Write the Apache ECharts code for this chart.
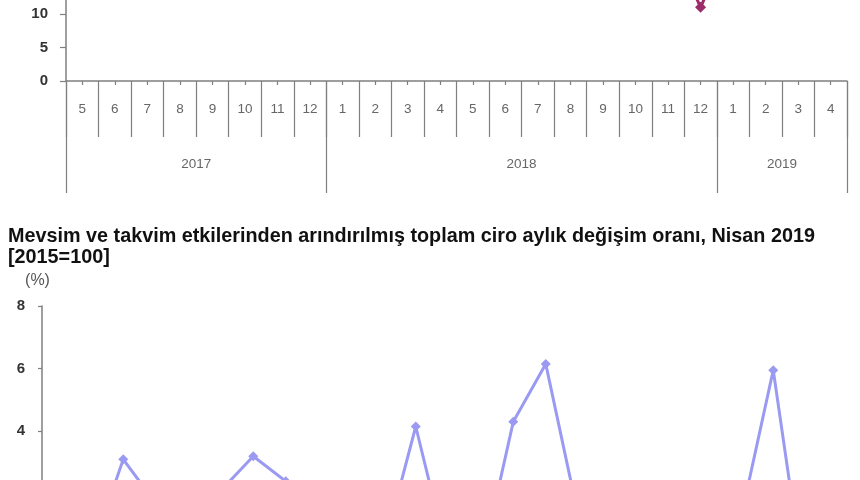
<!DOCTYPE html>
<html><head><meta charset="utf-8">
<script src="https://cdn.jsdelivr.net/npm/echarts@6/dist/echarts.min.js"></script>
<style>html,body{margin:0;padding:0;background:#fff}#c{width:860px;height:480px}</style>
</head><body><div id="c"></div>
<script>
// ---- data ----
const years = ['2017', '2018', '2019'];
const monthsPerYear = [8, 12, 4];
const monthLabels = ['5','6','7','8','9','10','11','12','1','2','3','4','5','6','7','8','9','10','11','12','1','2','3','4'];
// upper chart (only Dec-2018 point visible in the crop; the rest lies above the visible area)
const annualChange = [21, 23, 24, 26, 25, 24, 26, 22, 25, 23, 26, 24, 25, 27, 26, 31, 36, 28, 22, 11.0, 22, 20, 19, 17];
// lower chart: seasonally & calendar adjusted monthly change (%)
const monthlyChange = [1.0, 0.1, 3.1, 1.7, 0.8, 2.1, 3.2, 2.4, 1.2, 0.6, 0.2, 4.15, -0.1, -0.35, 4.3, 6.15, 1.3, -2.8, -1.5, 0.4, 0.9, 1.2, 5.95, -1.2];
const topYAxis = { min: 0, max: 40, interval: 5 };
const bottomYAxis = { min: -4, max: 8, interval: 2 };
const bottomTitle = 'Mevsim ve takvim etkilerinden arındırılmış toplam ciro aylık değişim oranı, Nisan 2019';
const bottomSubtitle = '[2015=100]';
const unitLabel = '(%)';

// ---- derived ----
const yearOfMonth = [];
const yearStart = [];
const yearLabelIdx = [];
years.forEach((y, i) => {
  yearStart.push(yearOfMonth.length);
  yearLabelIdx.push(yearOfMonth.length + monthsPerYear[i] / 2);
  for (let k = 0; k < monthsPerYear[i]; k++) yearOfMonth.push(y);
});

const FONT = '"Liberation Sans", Arial, sans-serif';
const AXIS_COL = '#7f7f7f';
const band = 781 / monthLabels.length;

const chart = echarts.init(document.getElementById('c'), null, { renderer: 'canvas' });
chart.setOption({
  animation: false,
  backgroundColor: '#ffffff',
  textStyle: { fontFamily: FONT },
  title: {
    text: bottomTitle + '\n' + bottomSubtitle,
    left: 8, top: 226, padding: 0,
    textStyle: { fontFamily: FONT, fontSize: 19.8, fontWeight: 'bold', color: '#111', lineHeight: 21 }
  },
  grid: [
    { left: 66, width: 781, top: 81 - 268, height: 268, outerBoundsMode: 'none', containLabel: false },
    { left: 42, width: 780, top: 306, height: 375.6, outerBoundsMode: 'none', containLabel: false }
  ],
  xAxis: [
    { // months with boundary separators
      type: 'category', gridIndex: 0, data: monthLabels, position: 'bottom',
      axisLine: { lineStyle: { color: AXIS_COL, width: 1.5 } },
      axisTick: { show: true, interval: 0, length: 56, lineStyle: { color: AXIS_COL, width: 1.2 } },
      axisLabel: { interval: 0, margin: 21, fontSize: 13.5, color: '#666', fontFamily: FONT }
    },
    { // small centre ticks
      type: 'category', gridIndex: 0, data: monthLabels, position: 'bottom',
      axisLine: { show: false },
      axisTick: { show: true, interval: 0, alignWithLabel: true, length: 4, lineStyle: { color: AXIS_COL, width: 1.2 } },
      axisLabel: { show: false }
    },
    { // years
      type: 'category', gridIndex: 0, data: yearOfMonth, position: 'bottom',
      axisLine: { show: false },
      axisTick: { show: true, interval: (idx) => yearStart.includes(idx), length: 112, lineStyle: { color: AXIS_COL, width: 1.2 } },
      axisLabel: {
        interval: (idx) => yearLabelIdx.includes(idx), margin: 76, fontSize: 13.5, color: '#666', fontFamily: FONT,
        padding: [0, band, 0, 0]
      }
    },
    {
      type: 'category', gridIndex: 1, data: monthLabels,
      axisLine: { lineStyle: { color: AXIS_COL, width: 1.5 } },
      axisTick: { interval: 0, length: 4 },
      axisLabel: { interval: 0, fontSize: 13.5, color: '#666' }
    }
  ],
  yAxis: [
    {
      type: 'value', gridIndex: 0, min: topYAxis.min, max: topYAxis.max, interval: topYAxis.interval,
      axisLine: { show: true, lineStyle: { color: AXIS_COL, width: 1.5 } },
      axisTick: { show: true, length: 6, lineStyle: { color: AXIS_COL, width: 1.2 } },
      splitLine: { show: false },
      axisLabel: { margin: 18, fontSize: 15, fontWeight: 'bold', color: '#333', fontFamily: FONT }
    },
    {
      type: 'value', gridIndex: 1, min: bottomYAxis.min, max: bottomYAxis.max, interval: bottomYAxis.interval,
      name: unitLabel, nameLocation: 'end', nameGap: 17,
      nameTextStyle: { fontSize: 16, fontWeight: 'normal', color: '#555', fontFamily: FONT, padding: [0, 9, 0, 0] },
      axisLine: { show: true, lineStyle: { color: AXIS_COL, width: 1.5 } },
      axisTick: { show: true, length: 4, lineStyle: { color: AXIS_COL, width: 1.2 } },
      splitLine: { show: false },
      axisLabel: { margin: 17, fontSize: 15, fontWeight: 'bold', color: '#333', fontFamily: FONT }
    }
  ],
  series: [
    {
      type: 'line', xAxisIndex: 0, yAxisIndex: 0, data: annualChange,
      symbol: 'diamond', symbolSize: 11,
      itemStyle: { color: '#9b2d6b' },
      lineStyle: { color: '#9b2d6b', width: 3 }
    },
    {
      type: 'line', xAxisIndex: 3, yAxisIndex: 1, data: monthlyChange,
      symbol: 'diamond', symbolSize: 10,
      itemStyle: { color: '#9a9af2' },
      lineStyle: { color: '#9a9af2', width: 3 }
    }
  ]
});
</script>
</body></html>
